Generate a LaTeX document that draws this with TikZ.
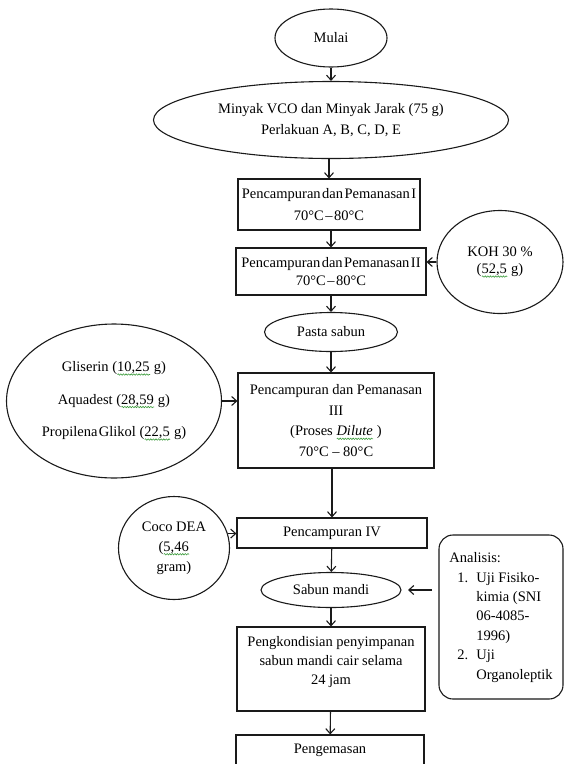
\documentclass[tikz,border=0pt]{standalone}
\usepackage{fontspec}
\setmainfont{Liberation Serif}
\usetikzlibrary{shapes.geometric,arrows.meta,decorations.pathmorphing}
\definecolor{ink}{HTML}{1A1A1A}
\definecolor{spellgreen}{HTML}{3C9C3C}
\newcommand{\fsz}[1]{\fontsize{14.5}{#1}\selectfont}
\newcommand{\tightsp}{\spaceskip=1.5pt plus 1pt\relax}
\newcommand{\spl}[1]{\setbox0=\hbox{#1}\rlap{\copy0}\tikz[baseline=0pt,x=1pt,y=1pt]{\draw[spellgreen, line width=0.6pt, decorate, decoration={snake, amplitude=0.7pt, segment length=2.6pt}] (0pt,-3pt) -- (\wd0,-3pt);}}
\begin{document}
\begin{tikzpicture}[x=1pt,y=-1pt,
  box/.style={draw=ink, line width=1.1pt, rectangle, inner sep=0pt, align=center, font=\fsz{20}},
  oval/.style={draw=ink, line width=1.1pt, ellipse, inner sep=0pt, align=center, font=\fsz{20}},
  arr/.style={draw=ink, line width=1.1pt, -{Straight Barb[length=5pt,width=9pt]}}]
\useasboundingbox (0,0) rectangle (564,764);
\fill[white] (0,0) rectangle (564,764);

% main column
\node[oval, minimum width=112pt, minimum height=58pt] (mulai) at (331,38) {Mulai};
\node[oval, minimum width=355pt, minimum height=77pt, font=\fsz{21.7}] (oil) at (331,120)
  {Minyak VCO dan Minyak Jarak (75 g)\\Perlakuan A, B, C, D, E};
\node[box, minimum width=182pt, minimum height=51pt, font=\fsz{22}\tightsp] (b1) at (329,204.5)
  {Pencampuran dan Pemanasan I\\70°C – 80°C};
\node[box, minimum width=190pt, minimum height=47pt, font=\fsz{18}\tightsp] (b2) at (331,271.5)
  {Pencampuran dan Pemanasan II\\70°C – 80°C};
\node[oval, minimum width=133pt, minimum height=39pt] (pasta) at (331,332) {Pasta sabun};
\node[box, minimum width=196pt, minimum height=95pt, font=\fsz{20.7}] (b3) at (336,420.5)
  {Pencampuran dan Pemanasan\\III\\(Proses \spl{\textit{Dilute}} )\\70°C – 80°C};
\node[box, minimum width=190pt, minimum height=30pt] (b4) at (332,533) {Pencampuran IV};
\node[oval, minimum width=140pt, minimum height=35pt] (sabun) at (331,590) {Sabun mandi};
\node[box, minimum width=188pt, minimum height=84pt, font=\fsz{19}] (b5) at (331,669)
  {\parbox[c][84pt][t]{188pt}{\centering\vspace*{9.5pt}Pengkondisian penyimpanan\\sabun mandi cair selama\\24 jam}};
\node[box, minimum width=188pt, minimum height=30pt] (b6) at (330,750) {Pengemasan};

% side inputs
\node[oval, minimum width=126pt, minimum height=103pt, font=\fsz{17.5}] (koh) at (500,262)
  {KOH 30 \%\\(\spl{52,5} g)};
\node[oval, minimum width=215pt, minimum height=154pt, font=\fsz{32.5}] (bahan) at (114,401)
  {Gliserin (\spl{10,25} g)\\Aquadest (\spl{28,59} g)\\Propilena\hspace{1.5pt}Glikol (\spl{22,5} g)};
\node[oval, minimum width=111pt, minimum height=103pt, font=\fsz{20}] (coco) at (174,548)
  {Coco DEA\\(\spl{5,46}\\gram)};
\node[draw=ink, line width=1.1pt, rounded corners=14pt, minimum width=124pt, minimum height=164pt,
  inner sep=0pt, font=\fsz{19.4}] (analisis) at (501,617)
  {\begin{tabular}{@{\hspace{8pt}}l@{\hspace{8pt}}l@{}}
   \multicolumn{2}{@{}l@{}}{Analisis:}\\
   1. & Uji Fisiko-\\
      & kimia (SNI\\
      & 06-4085-\\
      & 1996)\\
   2. & Uji\\
      & Organoleptik
   \end{tabular}};

\coordinate (fa) at (432,590);
\coordinate (fb) at (408,590);

% connectors
\draw[arr] (mulai) -- (oil);
\draw[arr] (oil.south -| b1) -- (b1);
\draw[arr] (b1.south -| b2) -- (b2);
\draw[arr] (koh) -- (koh -| b2.east);
\draw[arr] (b2) -- (pasta);
\draw[arr] (pasta) -- (pasta |- b3.north);
\draw[arr] (bahan) -- (bahan -| b3.west);
\draw[arr] (b3.south -| b4) -- (b4);
\draw[arr] (coco.15) -- (coco.15 -| b4.west);
\draw[arr] (b4) -- (sabun);
\draw[arr] (fa) -- (fb);
\draw[arr] (sabun) -- (b5);
\draw[arr] (b5) -- (b6);
\end{tikzpicture}
\end{document}
